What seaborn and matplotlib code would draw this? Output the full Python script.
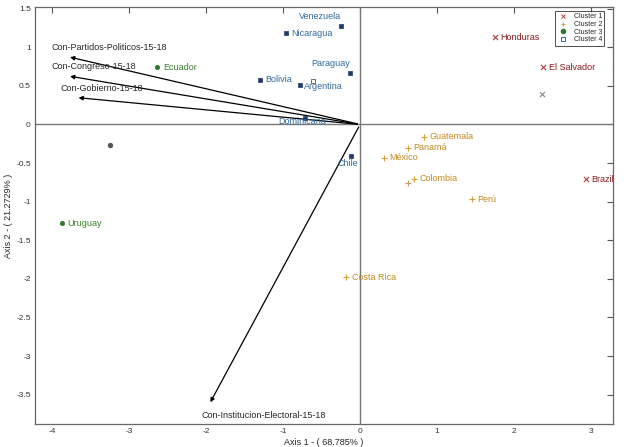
import pandas as pd
import matplotlib
matplotlib.use("Agg")
import matplotlib.pyplot as plt
import seaborn as sns
from matplotlib.lines import Line2D

# country scores (axis 1, axis 2)
countries = ["Venezuela", "Nicaragua", "Bolivia", "Argentina", "Paraguay", "Dominicana", "Chile",
             "Ecuador", "Uruguay",
             "Honduras", "El Salvador", "Brazil",
             "Guatemala", "Panamá", "México", "Colombia", "Perú", "Costa Rica"]
axis1 = [-0.25, -0.96, -1.30, -0.78, -0.13, -0.71, -0.12,
         -2.63, -3.87,
         1.75, 2.38, 2.93,
         0.83, 0.62, 0.31, 0.70, 1.45, -0.18]
axis2 = [1.28, 1.18, 0.58, 0.51, 0.67, 0.09, -0.41,
         0.74, -1.28,
         1.13, 0.74, -0.71,
         -0.16, -0.30, -0.43, -0.70, -0.97, -1.98]
cluster = ["Cluster 4"] * 7 + ["Cluster 3"] * 2 + ["Cluster 1"] * 3 + ["Cluster 2"] * 6

# cluster centroids
cent_names = ["Cluster 1", "Cluster 2", "Cluster 3", "Cluster 4"]
cent_x = [2.36, 0.62, -3.25, -0.61]
cent_y = [0.39, -0.76, -0.27, 0.56]

# variable loadings (arrow tips)
variables = ["Con-Partidos-Politicos-15-18", "Con-Congreso-15-18", "Con-Gobierno-15-18",
             "Con-Institucion-Electoral-15-18"]
var_x = [-3.80, -3.80, -3.69, -1.96]
var_y = [0.88, 0.63, 0.35, -3.63]

marker_col = {"Cluster 1": "#b23a3a", "Cluster 2": "#d4a13a", "Cluster 3": "#2f7a2f", "Cluster 4": "#1d3a6b"}
text_col = {"Cluster 1": "#8b1c1c", "Cluster 2": "#c48a1c", "Cluster 3": "#3c7f2e", "Cluster 4": "#2f6a9a"}
markers = {"Cluster 1": "x", "Cluster 2": "+", "Cluster 3": "o", "Cluster 4": "s"}

sns.set_style("white")
plt.rcParams["font.family"] = ["Liberation Sans", "DejaVu Sans"]
plt.rcParams["axes.unicode_minus"] = False

df = pd.DataFrame({"x": axis1, "y": axis2, "country": countries, "cluster": cluster})
cent = pd.DataFrame({"x": cent_x, "y": cent_y, "cluster": cent_names})

fig = plt.figure(figsize=(6.24, 4.47), dpi=100)
ax = fig.add_axes([0.056, 0.0515, 0.926, 0.9325])

ax.axhline(0, color="#777777", lw=1.0, zorder=1)
ax.axvline(0, color="#777777", lw=1.0, zorder=1)

for cl in cent_names:
    sub = df[df.cluster == cl]
    if markers[cl] in ("x", "+"):
        sns.scatterplot(data=sub, x="x", y="y", marker=markers[cl], color=marker_col[cl],
                        s=14, linewidth=0.8, ax=ax, zorder=3)
    else:
        sns.scatterplot(data=sub, x="x", y="y", marker=markers[cl], color=marker_col[cl],
                        s=10, edgecolor=marker_col[cl], linewidth=0.5, ax=ax, zorder=3)

# centroids
for _, r in cent.iterrows():
    cl = r["cluster"]
    if cl == "Cluster 1":
        ax.scatter(r.x, r.y, marker="x", color="#888888", s=14, linewidth=0.8, zorder=3)
    elif cl == "Cluster 2":
        ax.scatter(r.x, r.y, marker="+", color="#c4a060", s=14, linewidth=0.8, zorder=3)
    elif cl == "Cluster 3":
        ax.scatter(r.x, r.y, marker="o", color="#555555", s=8, zorder=3)
    else:
        ax.scatter(r.x, r.y, marker="s", facecolor="white", edgecolor="#555555", s=12, linewidth=0.6, zorder=3)

# labels
for _, r in df.iterrows():
    name = r.country
    if name in ("Venezuela", "Paraguay"):
        ax.text(r.x, r.y + 0.06, name, color=text_col[r.cluster], fontsize=6.5, ha="right", va="bottom")
    elif name == "Chile":
        ax.text(r.x + 0.1, r.y - 0.04, name, color=text_col[r.cluster], fontsize=6.5, ha="right", va="top")
    elif name == "Argentina":
        ax.text(r.x + 0.05, r.y - 0.02, name, color=text_col[r.cluster], fontsize=6.5, ha="left", va="center")
    elif name == "Dominicana":
        ax.text(r.x + 0.27, r.y - 0.05, name, color=text_col[r.cluster], fontsize=6.5, ha="right", va="center")
    else:
        ax.text(r.x + 0.07, r.y, name, color=text_col[r.cluster], fontsize=6.5, ha="left", va="center")

# loading arrows
for name, vx, vy in zip(variables, var_x, var_y):
    ax.annotate("", xy=(vx, vy), xytext=(0, 0),
                arrowprops=dict(arrowstyle="-|>", color="black", lw=0.9, mutation_scale=6), zorder=2)
    if vy < -1:
        ax.text(vx - 0.1, vy - 0.08, name, fontsize=6.5, ha="left", va="top")
    else:
        ax.text(vx - 0.2, vy + 0.06, name, fontsize=6.5, ha="left", va="bottom")

ax.set_xlim(-4.22, 3.28)
ax.set_ylim(-3.88, 1.52)
ax.set_xticks([-4, -3, -2, -1, 0, 1, 2, 3])
ax.set_yticks([-3.5, -3, -2.5, -2, -1.5, -1, -0.5, 0, 0.5, 1, 1.5])
ax.set_yticklabels(["-3.5", "-3", "-2.5", "-2", "-1.5", "-1", "-0.5", "0", "0.5", "1", "1.5"])
ax.tick_params(direction="in", length=4, width=0.8, labelsize=6, top=True, right=True,
               colors="#555555", labelcolor="#333333", pad=3)
for sp in ax.spines.values():
    sp.set_color("#666666")
    sp.set_linewidth(0.9)
ax.set_xlabel("Axis 1 - ( 68.785% )", fontsize=6.5, labelpad=2)
ax.set_ylabel("Axis 2 - ( 21.2729% )", fontsize=6.5, labelpad=2)

# legend
handles = [
    Line2D([], [], marker="x", color="#c04040", ls="", ms=3, mew=0.7),
    Line2D([], [], marker="+", color="#d4a13a", ls="", ms=3, mew=0.7),
    Line2D([], [], marker="o", color="#2f7a2f", ls="", ms=3),
    Line2D([], [], marker="s", mfc="white", mec="#2f6a9a", ls="", ms=3, mew=0.7),
]
leg = ax.legend(handles, cent_names, loc="upper right", fontsize=5, frameon=True, fancybox=False,
                edgecolor="black", borderpad=0.3, handlelength=1.5, labelspacing=0.1,
                handletextpad=0.8, bbox_to_anchor=(0.985, 0.99), borderaxespad=0)
leg.get_frame().set_linewidth(0.6)

fig.savefig("out.png", dpi=100)
